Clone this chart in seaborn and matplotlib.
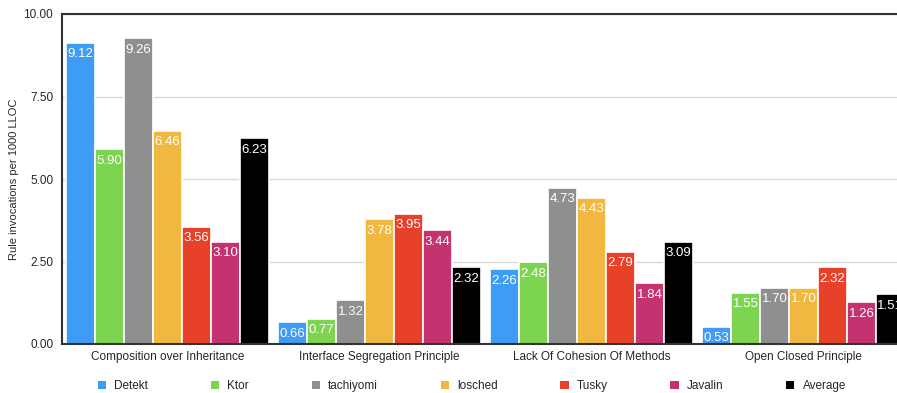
import matplotlib
matplotlib.use("Agg")
import matplotlib.pyplot as plt
import seaborn as sns
import pandas as pd

categories = ["Composition over Inheritance", "Interface Segregation Principle",
              "Lack Of Cohesion Of Methods", "Open Closed Principle"]
projects = ["Detekt", "Ktor", "tachiyomi", "losched", "Tusky", "Javalin", "Average"]
detekt = [9.12, 0.66, 2.26, 0.53]
ktor = [5.90, 0.77, 2.48, 1.55]
tachiyomi = [9.26, 1.32, 4.73, 1.70]
losched = [6.46, 3.78, 4.43, 1.70]
tusky = [3.56, 3.95, 2.79, 2.32]
javalin = [3.10, 3.44, 1.84, 1.26]
average = [6.23, 2.32, 3.09, 1.51]
yticks = [0.0, 2.5, 5.0, 7.5, 10.0]
colors = ["#3E9CF6", "#7DD451", "#8F8F8F", "#F0B840", "#E8412A", "#C4336F", "#000000"]

series = [detekt, ktor, tachiyomi, losched, tusky, javalin, average]
rows = []
for proj, vals in zip(projects, series):
    for cat, v in zip(categories, vals):
        rows.append({"category": cat, "project": proj, "value": v})
df = pd.DataFrame(rows)

sns.set_style("white")
plt.rcParams["font.family"] = ["Liberation Sans", "DejaVu Sans"]

fig = plt.figure(figsize=(8.97, 3.93), dpi=100)
ax = fig.add_axes([61.5 / 897, 49 / 393, 848 / 897, 330 / 393])

sns.barplot(data=df, x="category", y="value", hue="project", order=categories,
            hue_order=projects, palette=colors, width=0.957, ax=ax,
            edgecolor="white", linewidth=1.2, saturation=1, legend=True, errorbar=None)

for cont in ax.containers:
    ax.bar_label(cont, fmt="%.2f", padding=-12.5, color="white", fontsize=9.5)

ax.set_ylim(0, 10)
ax.set_xlim(-0.5, 3.5)
ax.set_yticks(yticks)
ax.set_yticklabels([f"{t:.2f}" for t in yticks], fontsize=8.5)
ax.tick_params(axis="both", length=0, pad=6)
ax.tick_params(axis="x", labelsize=8.5, pad=5)
ax.yaxis.grid(True, color="#d9d9d9", linewidth=1)
ax.set_axisbelow(True)
ax.set_xlabel("")
ax.set_ylabel("Rule invocations per 1000 LLOC", fontsize=8)
ax.yaxis.set_label_coords(-0.05, 0.5)
for s in ["left", "bottom", "top"]:
    ax.spines[s].set_color("#333333")
    ax.spines[s].set_linewidth(1.5)
ax.spines["right"].set_visible(False)

handles, labels = ax.get_legend_handles_labels()
ax.get_legend().remove()
for h in handles:
    h.set_edgecolor("none")
fig.legend(handles, labels, loc="center", bbox_to_anchor=(472 / 897, 7 / 393), ncol=7,
           frameon=False, fontsize=8.5, handlelength=0.7, handleheight=0.7,
           handletextpad=0.7, columnspacing=5.3)

fig.savefig("out.png", dpi=100)
